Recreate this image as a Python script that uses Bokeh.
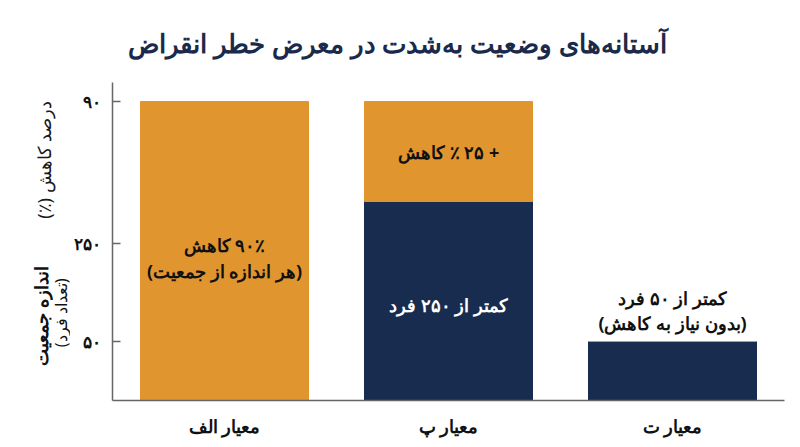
#Threshold chart - critically endangered criteria (stacked bars, Persian labels)
from math import pi
from bokeh.plotting import figure
from bokeh.layouts import column, row
from bokeh.models import ColumnDataSource, FactorRange, FixedTicker, Range1d
from bokeh.core.properties import value
from bokeh.embed import file_html
from bokeh.resources import INLINE

#Data (heights are in the chart's own schematic units)
criteria = ["معیار الف", "معیار پ", "معیار ت"]
population_part = [0, 199, 59]     # navy segment: population size
decline_part = [299, 100, 0]       # orange segment: reduction on top
y_tick_pos = [59, 157, 299]
y_tick_text = ["۵۰", "۲۵۰", "۹۰"]

#In-bar texts: (criterion, segment, line, colour, pixel shift)
bar_texts = [
    ("معیار الف", "decline", "۹۰٪ کاهش", "#111111", -6),
    ("معیار الف", "decline", "(هر اندازه از جمعیت)", "#111111", 20),
    ("معیار پ", "decline", "+ ۲۵ ٪ کاهش", "#111111", 0),
    ("معیار پ", "population", "کمتر از ۲۵۰ فرد", "#ffffff", 4),
    ("معیار ت", "above", "کمتر از ۵۰ فرد", "#111111", -44),
    ("معیار ت", "above", "(بدون نیاز به کاهش)", "#111111", -19),
]

TITLE = "آستانه‌های وضعیت به‌شدت در معرض خطر انقراض"
ORANGE = "#E0952F"
NAVY = "#172C4E"
FONT = "Noto Sans"

def rtl(s):
    # right-to-left marks so the browser lays the Persian line out RTL
    return "\u200f" + s + "\u200f"

def blank_fig(w, h):
    # text-only strip, no axes
    f = figure(width=w, height=h, x_range=Range1d(0, w), y_range=Range1d(0, h),
               x_axis_type=None, y_axis_type=None, min_border=0,
               output_backend="svg", toolbar_location=None)
    f.grid.visible = False
    f.outline_line_color = None
    return f

#Main chart
tops = [a + b for a, b in zip(population_part, decline_part)]
src = ColumnDataSource(dict(x=criteria, pop=population_part, top=tops))

p = figure(x_range=FactorRange(*criteria), y_range=Range1d(0, 318),
           frame_width=672, frame_height=318,
           min_border_left=41, min_border_right=1, min_border_top=0, min_border_bottom=31,
           output_backend="svg", toolbar_location=None)

p.vbar(x="x", top="pop", bottom=0, width=0.75, color=NAVY, source=src)
p.vbar(x="x", top="top", bottom="pop", width=0.75, color=ORANGE, source=src)

#Text inside / above bars, anchored on the segment it describes
tx, ty, tt, tc, ts = [], [], [], [], []
for crit, seg, line, col, shift in bar_texts:
    i = criteria.index(crit)
    if seg == "decline":
        y = population_part[i] + decline_part[i] / 2
    elif seg == "population":
        y = population_part[i] / 2
    else:
        y = tops[i]
    tx.append(crit)
    ty.append(y)
    tt.append(rtl(line))
    tc.append(col)
    ts.append(shift)
tsrc = ColumnDataSource(dict(x=tx, y=ty, text=tt, color=tc, dy=ts))
p.text(x="x", y="y", text="text", text_color="color", y_offset="dy", source=tsrc,
       text_align="center", text_baseline="middle", text_font=value(FONT),
       text_font_size="18px", text_font_style="bold")

p.xgrid.visible = False
p.ygrid.visible = False
p.outline_line_color = None

p.yaxis.ticker = FixedTicker(ticks=y_tick_pos)
p.yaxis.major_label_overrides = {t: s for t, s in zip(y_tick_pos, y_tick_text)}
p.yaxis.major_tick_in = 8
p.yaxis.major_tick_out = 0
p.yaxis.minor_tick_line_color = None
p.yaxis.major_label_standoff = 12
p.yaxis.axis_line_color = "#666666"
p.yaxis.major_tick_line_color = "#666666"
p.yaxis.axis_line_width = 1.5
p.yaxis.major_tick_line_width = 1.5

p.xaxis.major_tick_line_color = None
p.xaxis.minor_tick_line_color = None
p.xaxis.major_label_standoff = 7
p.xaxis.axis_line_color = "#666666"
p.xaxis.axis_line_width = 1.5

for ax in (p.xaxis, p.yaxis):
    ax.major_label_text_font = FONT
    ax.major_label_text_font_size = "17px"
    ax.major_label_text_font_style = "bold"
    ax.major_label_text_color = "#111111"
p.xaxis.major_label_text_font_size = "18px"

#Title strip on top
top = blank_fig(784, 82)
top.text(x=[397], y=[40], text=[rtl(TITLE)], text_align="center", text_baseline="middle",
         text_font=value(FONT), text_font_size="26px", text_font_style="bold",
         text_color="#1B2A4A")

#Caption strip on the left: y-axis captions for the two parts of the scale
#(left-aligned rotated text, so y is where each caption starts)
cap = blank_fig(70, 349)
cap.text(x=[43], y=[195], text=[rtl("درصد کاهش (٪)")], angle=pi / 2,
         text_align="left", text_baseline="middle", text_font=value(FONT),
         text_font_size="18px", text_color="#1a1a1a")
cap.text(x=[40], y=[29], text=[rtl("اندازه جمعیت")], angle=pi / 2,
         text_align="left", text_baseline="middle", text_font=value(FONT),
         text_font_size="18px", text_font_style="bold", text_color="#111111")
cap.text(x=[60], y=[50], text=[rtl("(تعداد فرد)")], angle=pi / 2,
         text_align="left", text_baseline="middle", text_font=value(FONT),
         text_font_size="16px", text_color="#111111")

page = column(top, row(cap, p, spacing=0), spacing=0)
open("out.html", "w").write(file_html(page, INLINE))
